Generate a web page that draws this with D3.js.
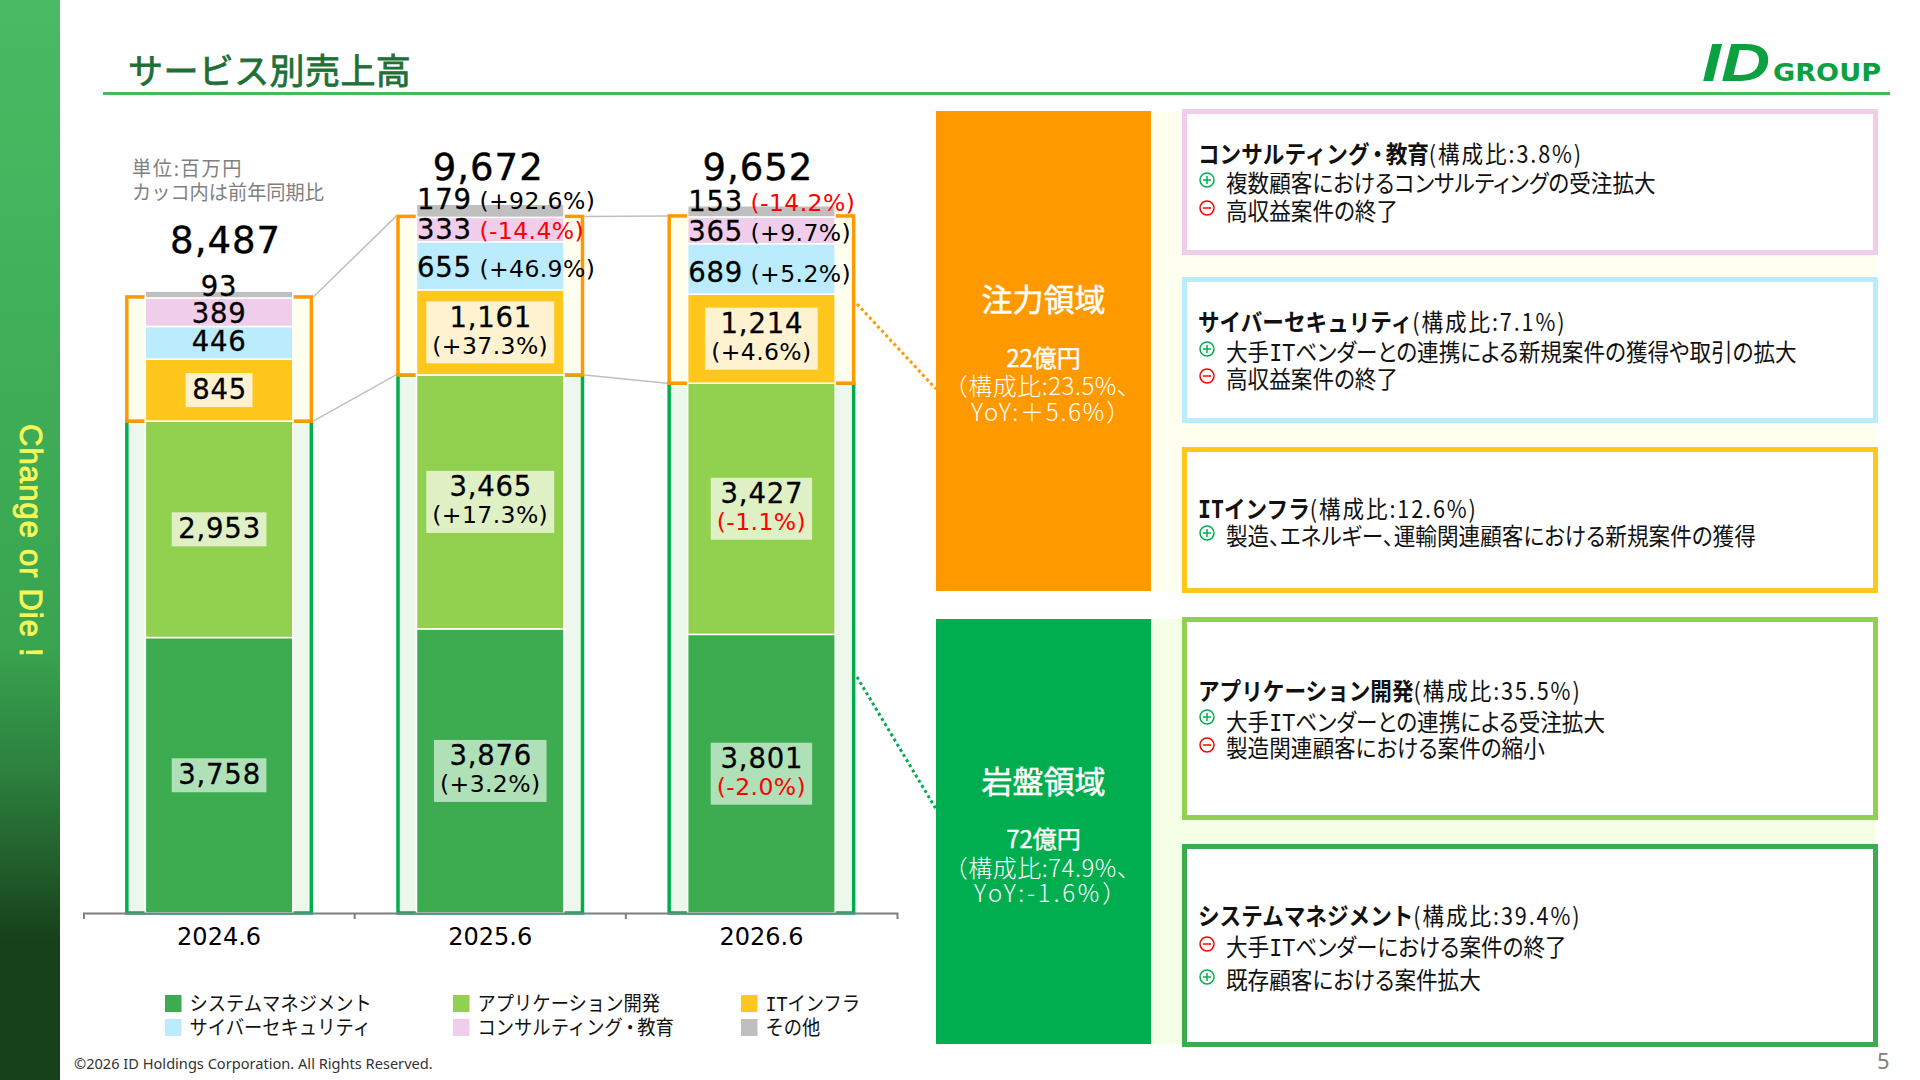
<!DOCTYPE html>
<html lang="ja"><head><meta charset="utf-8">
<script src="https://cdn.jsdelivr.net/npm/d3@7"></script>
<style>
html,body{margin:0;padding:0;background:#fff;overflow:hidden}
svg{display:block}
text{font-family:"Noto Sans CJK JP","Noto Sans",sans-serif}
.num{font-family:"DejaVu Sans",sans-serif}
.palt{font-feature-settings:"palt" 1}
</style></head><body><svg id="c" width="1920" height="1080"></svg>
<script>
// ---------- data ----------
const years = ["2024.6","2025.6","2026.6"];
const seriesNames = ["システムマネジメント","アプリケーション開発","ITインフラ","サイバーセキュリティ","コンサルティング・教育","その他"];
const systemMgmt  = [3758,3876,3801];
const appDev      = [2953,3465,3427];
const itInfra     = [845,1161,1214];
const cyber       = [446,655,689];
const consulting  = [389,333,365];
const other       = [93,179,153];
const totals      = [8487,9672,9652];
const systemYoY   = [null,"+3.2%","-2.0%"];
const appYoY      = [null,"+17.3%","-1.1%"];
const itYoY       = [null,"+37.3%","+4.6%"];
const cyberYoY    = [null,"+46.9%","+5.2%"];
const consultYoY  = [null,"-14.4%","+9.7%"];
const otherYoY    = [null,"+92.6%","-14.2%"];
const seriesColors = ["#3DAB4F","#92D050","#FFC61C","#BBECFE","#F1CDEC","#BFBFBF"];
const labelBoxColors = ["#B0E0B8","#DFF0C5","#FFF2D1",null,null,null];
const panelHeads = ["注力領域","岩盤領域"];
const panelLines = [["22億円","（構成比:23.5%、","YoY:＋5.6%）"],["72億円","（構成比:74.9%、","YoY:-1.6%）"]];
const detailHeads = ["コンサルティング・教育","サイバーセキュリティ","ITインフラ","アプリケーション開発","システムマネジメント"];
const detailShares = ["(構成比:3.8%)","(構成比:7.1%)","(構成比:12.6%)","(構成比:35.5%)","(構成比:39.4%)"];
const detailItems = [
 [["+","複数顧客におけるコンサルティングの受注拡大"],["-","高収益案件の終了"]],
 [["+","大手ITベンダーとの連携による新規案件の獲得や取引の拡大"],["-","高収益案件の終了"]],
 [["+","製造、エネルギー、運輸関連顧客における新規案件の獲得"]],
 [["+","大手ITベンダーとの連携による受注拡大"],["-","製造関連顧客における案件の縮小"]],
 [["-","大手ITベンダーにおける案件の終了"],["+","既存顧客における案件拡大"]]
];
// ---------- layout ----------
const svg = d3.select("#c");
const RED="#FF0000", ORANGE="#FF9900", GREEN="#00AE4F";
const base=913, pxPerUnit=0.0733;
const y = d3.scaleLinear().domain([0,10000]).range([base,base-pxPerUnit*10000]);
const x = d3.scaleBand().domain(years).range([83.5,897]).padding(0);
const barW=147.5, frameW=184.5;
const cx = d=>x(d)+x.bandwidth()/2;
const yoys=[systemYoY,appYoY,itYoY,cyberYoY,consultYoY,otherYoY];
const vals=[systemMgmt,appDev,itInfra,cyber,consulting,other];
const rows=years.map((yr,i)=>{const r={year:yr};seriesNames.forEach((s,k)=>r[s]=vals[k][i]);return r;});
const stacked=d3.stack().keys(seriesNames)(rows);
// writes a string into a text element: "IT" gets the slab look of the reference, the middle dot is tightened
function rich(sel,s,dotDx){
 let pend=0;
 s.split(/(IT|・)/).filter(t=>t).forEach(tok=>{
  const ts=sel.append("tspan").text(tok);
  if(pend){ts.attr("dx",pend);pend=0;}
  if(tok==="IT") ts.style("font-family","'DejaVu Sans Mono'");
  if(tok==="・"&&dotDx){ts.attr("dx",dotDx);pend=dotDx;}
 });
 return sel;
}

// sidebar
const defs=svg.append("defs");
const g=defs.append("linearGradient").attr("id","side").attr("x1",0).attr("x2",0).attr("y1",0).attr("y2",1);
[[0,"#4ABB64"],[.6,"#38A44F"],[.72,"#2C7E3D"],[.87,"#17411B"],[1,"#17411B"]].forEach(s=>g.append("stop").attr("offset",s[0]).attr("stop-color",s[1]));
svg.append("rect").attr("width",60).attr("height",1080).attr("fill","url(#side)");
svg.append("text").attr("transform","translate(20,424) rotate(90)")
 .style("font-family","'Liberation Sans'").style("font-size","31px").style("letter-spacing","1.1px")
 .attr("fill","#F6F65A").attr("stroke","#F6F65A").attr("stroke-width",.9).text("Change or Die !");

// title
svg.append("text").attr("x",128).attr("y",84).attr("fill","#1F7037").attr("stroke","#1F7037").attr("stroke-width",.8)
 .style("font-size","35px").style("letter-spacing","0.4px").text("サービス別売上高");
svg.append("rect").attr("x",103).attr("y",92).attr("width",1787).attr("height",3).attr("fill","#46B95E");

// logo
svg.append("text").attr("x",1702).attr("y",81).attr("textLength",68).attr("lengthAdjust","spacingAndGlyphs")
 .style("font-family","'Liberation Sans'").style("font-size","53px").style("font-weight",700).style("font-style","italic").attr("fill","#0BA040").text("ID");
svg.append("text").attr("x",1773).attr("y",81).attr("textLength",108).attr("lengthAdjust","spacingAndGlyphs")
 .style("font-family","'DejaVu Sans'").style("font-size","25px").style("font-weight",700).attr("fill","#0BA040").text("GROUP");

// unit note
[["単位:百万円",176,1.7],["カッコ内は前年同期比",200,0]].forEach(d=>{
 svg.append("text").attr("transform",`translate(132,${d[1]}) scale(.96,1)`).attr("fill","#7F7F7F").style("font-size","20px").style("letter-spacing",d[2]+"px").text(d[0]);
});

// frames (pale bands behind the bars)
const fr=svg.append("g");
years.forEach((yr,i)=>{
 const L=cx(yr)-frameW/2;
 const yApp=y(systemMgmt[i]+appDev[i]);
 const yTop=y(systemMgmt[i]+appDev[i]+itInfra[i]+cyber[i]+consulting[i])-1;
 fr.append("rect").attr("x",L).attr("y",yApp).attr("width",frameW).attr("height",base-yApp).attr("fill","#EDF7EC").attr("stroke",GREEN).attr("stroke-width",3.5);
 fr.append("rect").attr("x",L).attr("y",yTop).attr("width",frameW).attr("height",yApp-yTop).attr("fill","#FFFFF0").attr("stroke",ORANGE).attr("stroke-width",3.5);
});
// connectors between frames
d3.pairs(years.map((yr,i)=>({i,yr}))).forEach(([a,b])=>{
 const top=d=>y(systemMgmt[d.i]+appDev[d.i]+itInfra[d.i]+cyber[d.i]+consulting[d.i])-1;
 const mid=d=>y(systemMgmt[d.i]+appDev[d.i]);
 [top,mid].forEach(f=>fr.append("line").attr("x1",cx(a.yr)+frameW/2+2).attr("y1",f(a)).attr("x2",cx(b.yr)-frameW/2-2).attr("y2",f(b)).attr("stroke","#BFBFBF").attr("stroke-width",1.5));
});
// dotted leaders
fr.append("line").attr("x1",857).attr("y1",304).attr("x2",936).attr("y2",389).attr("stroke",ORANGE).attr("stroke-width",3).attr("stroke-dasharray","3 3");
fr.append("line").attr("x1",857).attr("y1",677).attr("x2",936).attr("y2",809).attr("stroke",GREEN).attr("stroke-width",3).attr("stroke-dasharray","3 3");

// bars
svg.append("g").selectAll("g").data(stacked).join("g").attr("fill",(d,i)=>seriesColors[i])
 .selectAll("rect").data(d=>d).join("rect")
 .attr("x",d=>cx(d.data.year)-barW/2).attr("width",barW)
 .attr("y",d=>y(d[1])).attr("height",d=>y(d[0])-y(d[1]))
 .attr("stroke","#fff").attr("stroke-width",1.5);

// axis
const axis=svg.append("g").attr("transform",`translate(0,${base})`)
 .call(d3.axisBottom(x).tickSizeInner(0).tickSizeOuter(6).tickPadding(14.5));
axis.select(".domain").attr("stroke","#7F7F7F").attr("stroke-width",2);
axis.selectAll(".tick text").attr("class","num").style("font-size","24px").attr("fill","#000").style("font-family","'DejaVu Sans'");
years.slice(1).forEach(yr=>axis.append("line").attr("x1",x(yr)).attr("x2",x(yr)).attr("y1",0).attr("y2",6).attr("stroke","#7F7F7F").attr("stroke-width",2));

// value labels
const fmt=d3.format(",");
const pctSize=23.5, valSize=27.5;
const valStyle=t=>t.style("font-size",valSize+"px").style("letter-spacing","0.8px").attr("stroke","#000").attr("stroke-width",.3);
const inlineDy={3:[8,11,13],4:[10.5,9.5,10.5],5:[1.5,-1.5,-0.5]};
const L=svg.append("g").attr("class","labels");
stacked.forEach((s,k)=>s.forEach((d,i)=>{
 const yr=d.data.year, v=vals[k][i], p=yoys[k][i], mid=(y(d[0])+y(d[1]))/2;
 const tx=cx(yr);
 if(k<3){
  const gg=L.append("g");
  const box=gg.append("rect").attr("fill",labelBoxColors[k]);
  const t1=valStyle(gg.append("text").attr("class","num").attr("text-anchor","middle").attr("x",tx+.5).attr("y",p?mid-5.5:mid+9)).text(fmt(v));
  let w=t1.node().getComputedTextLength();
  if(p){
   const t2=gg.append("text").attr("class","num").attr("text-anchor","middle").attr("x",tx).attr("y",mid+21.5).style("font-size",pctSize+"px").style("letter-spacing","0.4px")
    .attr("fill",p[0]==="-"?RED:"#000").text(`(${p})`);
   w=Math.max(w,t2.node().getComputedTextLength());
  }
  const h=p?62:34;
  box.attr("x",tx-w/2-6).attr("width",w+12).attr("y",mid-h/2).attr("height",h);
 } else {
  const t=L.append("text").attr("class","num").attr("y",mid+inlineDy[k][i]);
  valStyle(t);
  if(p){
   t.attr("x",tx-barW/2+0.5);
   t.text(fmt(v));
   t.append("tspan").attr("dx",7.5).style("font-size",pctSize+"px").style("letter-spacing","0.4px").attr("stroke","none").attr("fill",p[0]==="-"?RED:"#000").text(`(${p})`);
  } else {
   t.attr("x",tx).attr("text-anchor","middle").text(fmt(v));
  }
 }
}));
// totals
const totalY=[253,180,180], totalDx=[6.5,-2,-3.5];
svg.append("g").selectAll("text").data(totals).join("text").attr("class","num").attr("text-anchor","middle")
 .attr("x",(d,i)=>cx(years[i])+totalDx[i]).attr("y",(d,i)=>totalY[i]).style("font-size","37px").style("letter-spacing","1px")
 .attr("fill","#000").attr("stroke","#000").attr("stroke-width",.4).text(d=>fmt(d));

// legend
const legX=[165,453,741], legY=[995,1019];
seriesNames.forEach((n,i)=>{
 const col=i%3,row=Math.floor(i/3);
 svg.append("rect").attr("x",legX[col]).attr("y",legY[row]).attr("width",16.5).attr("height",17).attr("fill",seriesColors[i]);
 rich(svg.append("text").attr("transform",`translate(${legX[col]+24.5},${legY[row]+16}) scale(.915,1)`).style("font-size","20px").attr("fill","#111"),n,-2);
});

// footer
svg.append("text").attr("x",74).attr("y",1069).style("font-family","'Noto Sans'").style("font-size","14.6px").attr("fill","#333").text("©2026 ID Holdings Corporation. All Rights Reserved.");
svg.append("text").attr("x",1877).attr("y",1069).style("font-family","'Noto Sans'").style("font-size","22px").attr("fill","#7F7F7F").text("5");

// left panels
const panels=[{y:111,h:480,c:ORANGE,ys:[300,358,386,412],bg:"#FFFFF0",ls:1.8},{y:619,h:425,c:"#00AE4F",ys:[782,839,868,893],bg:"#F5FFE5",ls:2.8}];
panels.forEach((p,i)=>{
 svg.append("rect").attr("x",1151).attr("y",p.y).attr("width",724).attr("height",p.h).attr("fill",p.bg);
 svg.append("rect").attr("x",936).attr("y",p.y).attr("width",215).attr("height",p.h).attr("fill",p.c);
 const tcx=1043.5;
 svg.append("text").attr("x",tcx).attr("y",p.ys[0]+11).attr("text-anchor","middle").attr("fill","#fff").attr("stroke","#fff").attr("stroke-width",.5).style("font-size","31px").text(panelHeads[i]);
 panelLines[i].forEach((s,j)=>{
  const t=svg.append("text").attr("x",j===2?tcx+8:j===1?tcx-1:tcx).attr("y",p.ys[j+1]+8.5).attr("text-anchor","middle").attr("fill","#fff").style("font-size","24px").text(s);
  if(j===0) t.attr("stroke","#fff").attr("stroke-width",.4);
  else t.style("font-weight",300).style("letter-spacing",j===1?"0.5px":p.ls+"px");
 });
});

// detail boxes
const boxes=[
 {y:109,b:255,c:"#F1CDEC",t:154,it:[184,212],ic:[180,208]},
 {y:277,b:423,c:"#BBECFE",t:322,it:[353,380],ic:[349,376]},
 {y:447,b:593,c:"#FFC61C",t:509,it:[537],ic:[533]},
 {y:617,b:820,c:"#92D050",t:691,it:[723,749],ic:[717,745]},
 {y:844,b:1047,c:"#3DAB4F",t:916,it:[948,981],ic:[944,977]}
];
boxes.forEach((b,i)=>{
 svg.append("rect").attr("x",1184.5).attr("y",b.y+2.5).attr("width",691).attr("height",b.b-b.y-5).attr("fill","#fff").attr("stroke",b.c).attr("stroke-width",5);
 const t=svg.append("text").attr("transform",`translate(1198,${b.t+8.5}) scale(.9,1)`).style("font-size","24px").attr("fill","#111");
 rich(t.append("tspan").style("font-weight",700),detailHeads[i],-3);
 t.append("tspan").style("font-weight",400).style("letter-spacing","2.1px").text(detailShares[i]);
 detailItems[i].forEach((it,j)=>{
  const col=it[0]==="+"?"#00B050":RED, ic=b.ic[j];
  svg.append("circle").attr("cx",1207).attr("cy",ic).attr("r",7).attr("fill","none").attr("stroke",col).attr("stroke-width",1.5);
  svg.append("line").attr("x1",1203).attr("x2",1211).attr("y1",ic).attr("y2",ic).attr("stroke",col).attr("stroke-width",1.5);
  if(it[0]==="+") svg.append("line").attr("x1",1207).attr("x2",1207).attr("y1",ic-4).attr("y2",ic+4).attr("stroke",col).attr("stroke-width",1.5);
  rich(svg.append("text").attr("class","palt").attr("transform",`translate(1226,${b.it[j]+8}) scale(.92,1)`).style("font-size","23.5px").attr("fill","#111"),it[1]);
 });
});
</script></body></html>
